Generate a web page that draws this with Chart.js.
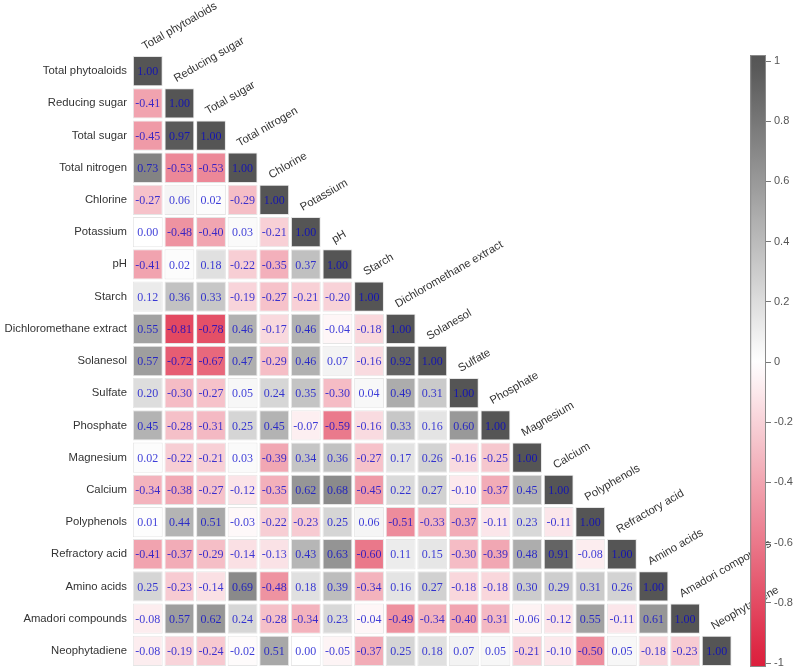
<!DOCTYPE html>
<html>
<head>
<meta charset="utf-8">
<script src="https://cdn.jsdelivr.net/npm/chart.js@4.4.0/dist/chart.umd.min.js"></script>
<style>
    html, body { margin: 0; padding: 0; background: #fff; }
    #wrap { position: relative; width: 796px; height: 671px; }
</style>
</head>
<body>
<div id="wrap"><canvas id="corr-chart"></canvas></div>
<script>
// variable names (rows top to bottom, columns left to right)
const variables = [
    'Total phytoaloids', 'Reducing sugar', 'Total sugar', 'Total nitrogen', 'Chlorine',
    'Potassium', 'pH', 'Starch', 'Dichloromethane extract', 'Solanesol', 'Sulfate',
    'Phosphate', 'Magnesium', 'Calcium', 'Polyphenols', 'Refractory acid', 'Amino acids',
    'Amadori compounds', 'Neophytadiene'
];

// lower triangle of the correlation matrix, one row per variable
const corrRows = [
    [1.00],
    [-0.41, 1.00],
    [-0.45, 0.97, 1.00],
    [0.73, -0.53, -0.53, 1.00],
    [-0.27, 0.06, 0.02, -0.29, 1.00],
    [0.00, -0.48, -0.40, 0.03, -0.21, 1.00],
    [-0.41, 0.02, 0.18, -0.22, -0.35, 0.37, 1.00],
    [0.12, 0.36, 0.33, -0.19, -0.27, -0.21, -0.20, 1.00],
    [0.55, -0.81, -0.78, 0.46, -0.17, 0.46, -0.04, -0.18, 1.00],
    [0.57, -0.72, -0.67, 0.47, -0.29, 0.46, 0.07, -0.16, 0.92, 1.00],
    [0.20, -0.30, -0.27, 0.05, 0.24, 0.35, -0.30, 0.04, 0.49, 0.31, 1.00],
    [0.45, -0.28, -0.31, 0.25, 0.45, -0.07, -0.59, -0.16, 0.33, 0.16, 0.60, 1.00],
    [0.02, -0.22, -0.21, 0.03, -0.39, 0.34, 0.36, -0.27, 0.17, 0.26, -0.16, -0.25, 1.00],
    [-0.34, -0.38, -0.27, -0.12, -0.35, 0.62, 0.68, -0.45, 0.22, 0.27, -0.10, -0.37, 0.45, 1.00],
    [0.01, 0.44, 0.51, -0.03, -0.22, -0.23, 0.25, 0.06, -0.51, -0.33, -0.37, -0.11, 0.23, -0.11, 1.00],
    [-0.41, -0.37, -0.29, -0.14, -0.13, 0.43, 0.63, -0.60, 0.11, 0.15, -0.30, -0.39, 0.48, 0.91, -0.08, 1.00],
    [0.25, -0.23, -0.14, 0.69, -0.48, 0.18, 0.39, -0.34, 0.16, 0.27, -0.18, -0.18, 0.30, 0.29, 0.31, 0.26, 1.00],
    [-0.08, 0.57, 0.62, 0.24, -0.28, -0.34, 0.23, -0.04, -0.49, -0.34, -0.40, -0.31, -0.06, -0.12, 0.55, -0.11, 0.61, 1.00],
    [-0.08, -0.19, -0.24, -0.02, 0.51, 0.00, -0.05, -0.37, 0.25, 0.18, 0.07, 0.05, -0.21, -0.10, -0.50, 0.05, -0.18, -0.23, 1.00]
];

// colour bar range and tick step
const colorbarMin = -1.013;
const colorbarMax = 1.02;
const colorbarStep = 0.2;

// red (-1) -> white (0) -> dark gray (+1)
const negEnd = [220, 30, 60];
const posEnd = [85, 85, 85];
const corrColor = (v) => {
    const end = v < 0 ? negEnd : posEnd;
    const t = Math.min(1, Math.abs(v));
    const c = end.map(e => Math.round(255 + (e - 255) * t));
    return `rgb(${c[0]},${c[1]},${c[2]})`;
};

const gap = 0.028;
const datasets = variables.map((name, j) => ({
    label: name,
    data: variables.map((_, i) => i >= j ? [j - 0.5 + gap, j + 0.5 - gap] : null),
    backgroundColor: variables.map((_, i) => i >= j ? corrColor(corrRows[i][j]) : 'transparent'),
    borderColor: 'rgba(0,0,0,0.10)',
    borderWidth: 1,
    borderSkipped: false
}));

// cell values, column labels and the colour bar
const corrDecor = {
    id: 'corrDecor',
    afterDatasetsDraw(chart) {
        const ctx = chart.ctx;
        const xs = chart.scales.x;
        const ys = chart.scales.y;
        const cb = chart.scales.cb;
        const area = chart.chartArea;

        ctx.save();
        ctx.font = '12px "Liberation Serif", serif';
        ctx.textAlign = 'center';
        ctx.textBaseline = 'middle';
        ctx.fillStyle = 'rgba(0,0,205,0.76)';
        chart.data.datasets.forEach((ds, j) => {
            chart.getDatasetMeta(j).data.forEach((el, i) => {
                if (ds.data[i] === null) return;
                const p = el.getCenterPoint();
                ctx.fillText(corrRows[i][j].toFixed(2), p.x, p.y + 1);
            });
        });

        // diagonal column labels
        const slot = (ys.bottom - ys.top) / variables.length;
        ctx.font = '11.3px "Liberation Sans", Arial, sans-serif';
        ctx.fillStyle = '#333';
        ctx.textAlign = 'left';
        ctx.textBaseline = 'alphabetic';
        variables.forEach((name, j) => {
            const x = xs.getPixelForValue(j) - 3;
            const y = ys.getPixelForValue(j) - slot / 2 - 5;
            ctx.save();
            ctx.translate(x, y);
            ctx.rotate(-Math.PI / 6);
            ctx.fillText(name, 0, 0);
            ctx.restore();
        });

        // colour bar, laid over the last labels as in the original
        const left = xs.getPixelForValue(19.06);
        const right = area.right;
        const grad = ctx.createLinearGradient(0, cb.top, 0, cb.bottom);
        for (let k = 0; k <= 40; k++) {
            const v = colorbarMax - (colorbarMax - colorbarMin) * k / 40;
            grad.addColorStop(k / 40, corrColor(v));
        }
        ctx.fillStyle = grad;
        ctx.fillRect(left, cb.top, right - left, cb.bottom - cb.top);
        ctx.strokeStyle = '#8a8a8a';
        ctx.lineWidth = 1;
        ctx.strokeRect(left + 0.5, cb.top + 0.5, right - left - 1, cb.bottom - cb.top - 1);
        ctx.restore();
    }
};

const labelFont = { family: '"Liberation Sans", Arial, sans-serif', size: 11.3 };

new Chart(document.getElementById('corr-chart'), {
    type: 'bar',
    data: { labels: variables, datasets },
    options: {
        indexAxis: 'y',
        responsive: true,
        maintainAspectRatio: false,
        animation: false,
        layout: { padding: { top: 55, bottom: 4, left: 0, right: 0 } },
        datasets: { bar: { grouped: false, categoryPercentage: 1, barPercentage: 0.94 } },
        plugins: { legend: { display: false }, tooltip: { enabled: false } },
        scales: {
            x: { type: 'linear', min: -0.5, max: 19.56, display: false },
            y: {
                type: 'category',
                grid: { display: false, drawTicks: false },
                border: { display: false },
                ticks: { font: labelFont, color: '#333', padding: 5 },
                afterFit: s => { s.width = 132; s.paddingTop = 0; s.paddingBottom = 0; }
            },
            cb: {
                type: 'linear',
                axis: 'y',
                position: 'right',
                offset: false,
                min: colorbarMin,
                max: colorbarMax,
                grid: { offset: false, drawOnChartArea: false, drawTicks: true, tickLength: 5, color: '#777' },
                border: { display: false },
                ticks: {
                    stepSize: colorbarStep,
                    includeBounds: false,
                    autoSkip: false,
                    font: { family: '"Liberation Sans", Arial, sans-serif', size: 11 },
                    color: '#555',
                    padding: 3,
                    callback: v => String(Math.round(v * 10) / 10)
                },
                afterFit: s => { s.width = 30; s.paddingTop = 0; s.paddingBottom = 0; }
            }
        }
    },
    plugins: [corrDecor]
});
</script>
</body>
</html>
